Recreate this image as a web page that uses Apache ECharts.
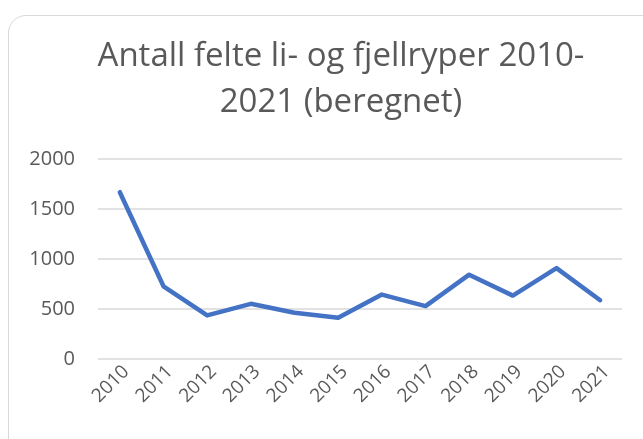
<!DOCTYPE html>
<html>
<head>
<meta charset="utf-8">
<script src="https://cdn.jsdelivr.net/npm/echarts@6/dist/echarts.min.js"></script>
<style>
  html, body { margin: 0; padding: 0; background: #fff; }
  #card { position: absolute; left: 8px; top: 15px; width: 700px; height: 500px;
          border: 1.5px solid #d9d9d9; border-radius: 18px; box-sizing: border-box; }
  #chart { position: absolute; left: 0; top: 0; width: 643px; height: 439px; }
</style>
</head>
<body>
<div id="card"></div>
<div id="chart"></div>
<script>
// årstall
const years = ['2010', '2011', '2012', '2013', '2014', '2015', '2016', '2017', '2018', '2019', '2020', '2021']
// antall felte (beregnet)
const felte = [1668, 727, 436, 552, 463, 413, 644, 529, 843, 634, 909, 588]
const yTicks = [0, 500, 1000, 1500, 2000]

const chart = echarts.init(document.getElementById('chart'))
const fontFam = '"Open Sans", "Noto Sans", sans-serif'

const option = {
    animation: false,
    graphic: [
        {
            type: 'text',
            style: {
                text: 'Antall felte li- og fjellryper 2010-\n2021 (beregnet)',
                x: 341,
                y: 34,
                textAlign: 'center',
                textVerticalAlign: 'top',
                fill: '#595959',
                font: '33px ' + fontFam,
                lineHeight: 46
            }
        }
    ],
    grid: {
        left: 98,
        right: 21,
        top: 159,
        bottom: 80
    },
    xAxis: {
        type: 'category',
        data: years,
        boundaryGap: true,
        axisLine: { show: false },
        axisTick: { show: false },
        axisLabel: {
            rotate: 45,
            margin: 16,
            padding: [14, -9, 0, 0],
            color: '#595959',
            fontSize: 19,
            fontFamily: fontFam
        }
    },
    yAxis: {
        type: 'value',
        min: yTicks[0],
        max: yTicks[yTicks.length - 1],
        interval: 500,
        axisLine: { show: false },
        axisTick: { show: false },
        axisLabel: {
            color: '#595959',
            fontSize: 20,
            margin: 23,
            fontFamily: fontFam,
            formatter: v => String(v)
        },
        splitLine: { lineStyle: { color: '#d9d9d9', width: 1.5 } }
    },
    series: [
        {
            type: 'line',
            data: felte,
            showSymbol: false,
            lineStyle: { color: '#4472C4', width: 4.5, join: 'round', cap: 'round' }
        }
    ]
}

chart.setOption(option)
</script>
</body>
</html>
